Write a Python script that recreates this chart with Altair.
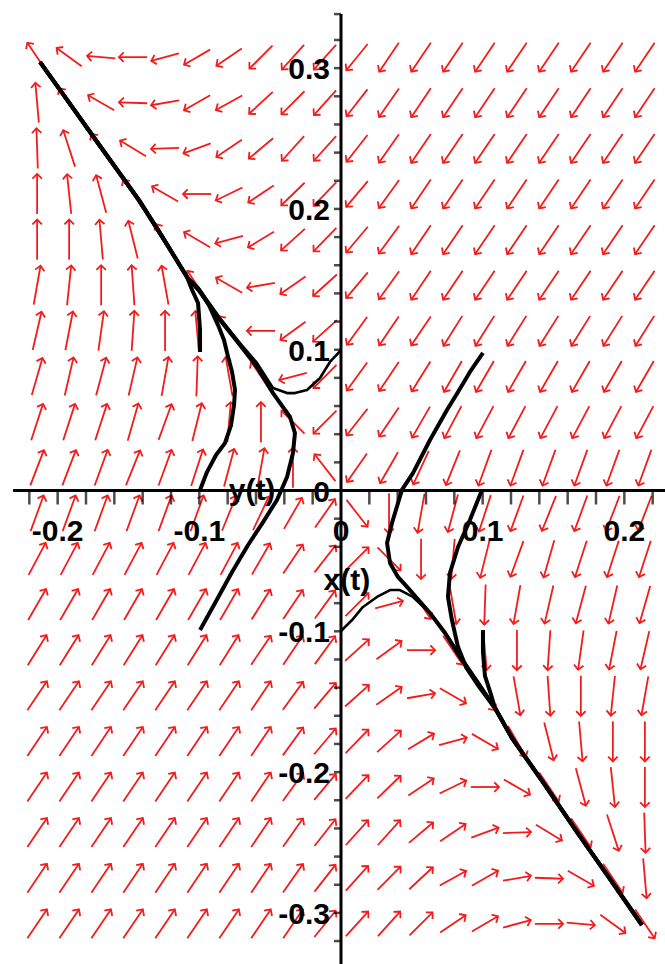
import math
import altair as alt
import pandas as pd

# ---------------------------------------------------------------------------
# Plot window and layout
# ---------------------------------------------------------------------------
W, H = 665, 964
X_DOMAIN = [-0.2407, 0.2287]
Y_DOMAIN = [-0.3363, 0.3484]
X_AXIS_SPAN = [-0.2315, 0.2287]
Y_AXIS_SPAN = [-0.3363, 0.3384]

# ---------------------------------------------------------------------------
# Direction field: arrow centres and arrow directions (degrees, counter-clockwise)
# ---------------------------------------------------------------------------
GRID_X = [-0.2145, -0.1919, -0.1693, -0.1468, -0.1242, -0.1016, -0.0790, -0.0565, -0.0339, -0.0113,
          0.0113, 0.0339, 0.0565, 0.0790, 0.1016, 0.1242, 0.1468, 0.1693, 0.1919, 0.2145]
GRID_Y = [0.3078, 0.2754, 0.2430, 0.2106, 0.1782, 0.1458, 0.1134, 0.0810, 0.0486, 0.0162,
          -0.0162, -0.0486, -0.0810, -0.1134, -0.1458, -0.1782, -0.2106, -0.2430, -0.2754, -0.3078]
CELL_W, CELL_H = 0.0226, 0.0324
ARROW_FRAC = 0.88

ANGLES = [
    [124, 144, 175, 180, 195, 210, 214, 225, 228, 228, 231, 236, 236, 236, 236, 236, 236, 236, 236, 236],
    [95, 124, 150, 178, 190, 210, 209, 223, 225, 228, 232, 235, 236, 236, 236, 236, 236, 236, 236, 236],
    [92, 108, 124, 149, 182, 200, 214, 220, 228, 228, 232, 235, 236, 236, 236, 236, 236, 236, 236, 236],
    [90, 96, 105, 124, 150, 180, 206, 214, 224, 226, 230, 234, 236, 236, 236, 236, 236, 236, 236, 236],
    [90, 90, 95, 104, 120, 150, 195, 211, 222, 226, 230, 234, 236, 236, 236, 236, 236, 236, 236, 236],
    [80, 84, 90, 94, 100, 124, 150, 190, 215, 222, 230, 234, 236, 236, 236, 236, 236, 236, 236, 236],
    [77, 79, 82, 86, 90, 95, 124, 180, 216, 222, 234, 236, 236, 238, 238, 238, 238, 238, 238, 238],
    [74, 77, 75, 77, 80, 88, 100, 124, 195, 225, 234, 236, 238, 240, 240, 240, 240, 240, 240, 240],
    [72, 72, 72, 74, 70, 76, 85, 90, 135, 225, 232, 236, 240, 242, 242, 242, 242, 242, 242, 242],
    [69, 69, 70, 68, 70, 72, 75, 80, 90, 128, 235, 240, 245, 248, 250, 250, 250, 250, 250, 250],
    [70, 70, 70, 70, 70, 70, 68, 65, 60, 55, 308, 270, 260, 255, 252, 250, 248, 250, 249, 249],
    [62, 62, 62, 62, 62, 62, 62, 60, 56, 52, 45, 315, 270, 265, 256, 250, 254, 252, 252, 252],
    [60, 60, 60, 60, 60, 60, 60, 58, 56, 54, 45, 15, 304, 280, 268, 260, 257, 255, 257, 254],
    [58, 58, 58, 58, 58, 58, 58, 56, 56, 54, 42, 36, 0, 304, 275, 270, 266, 262, 259, 257],
    [56, 56, 56, 56, 56, 56, 56, 56, 54, 50, 42, 35, 10, 330, 304, 280, 274, 270, 264, 260],
    [56, 56, 56, 56, 56, 56, 56, 56, 54, 50, 46, 42, 31, 15, 330, 300, 284, 275, 270, 270],
    [56, 56, 56, 56, 56, 56, 56, 56, 54, 50, 46, 44, 34, 26, 0, 330, 304, 285, 276, 270],
    [56, 56, 56, 56, 56, 56, 56, 56, 55, 52, 48, 48, 40, 34, 20, 2, 329, 304, 288, 272],
    [56, 56, 56, 56, 56, 56, 56, 56, 55, 52, 48, 45, 43, 29, 30, 10, 358, 330, 304, 275],
    [56, 56, 56, 56, 56, 56, 56, 56, 56, 51, 48, 48, 45, 34, 30, 15, 0, 355, 324, 304],
]

# ---------------------------------------------------------------------------
# Solution curves x(t), y(t)
# ---------------------------------------------------------------------------
LEFT_TAIL_X = [-0.1087, -0.1256, -0.1426, -0.1701, -0.1912, -0.2124]
LEFT_TAIL_Y = [0.1516, 0.1793, 0.2063, 0.2447, 0.2745, 0.3043]
RIGHT_TAIL_X = [0.1087, 0.1207, 0.1440, 0.1665, 0.1898, 0.2124]
RIGHT_TAIL_Y = [-0.1545, -0.1758, -0.2092, -0.2425, -0.2759, -0.3086]

A_X = [0.0, -0.0078, -0.0148, -0.0240, -0.0325, -0.0381, -0.0480, -0.0593, -0.0713, -0.0854, -0.0995]
A_Y = [0.0998, 0.0913, 0.0799, 0.0714, 0.0692, 0.0692, 0.0728, 0.0906, 0.1048, 0.1225, 0.1424]
B_X = [-0.0995, -0.0889, -0.0769, -0.0656, -0.0550, -0.0452, -0.0381, -0.0339, -0.0325, -0.0360,
       -0.0480, -0.0593, -0.0713, -0.0854, -0.0995]
B_Y = [-0.0991, -0.0799, -0.0579, -0.0387, -0.0224, -0.0067, 0.0096, 0.0266, 0.0408, 0.0522,
       0.0692, 0.0877, 0.1033, 0.1211, 0.1410]
C_X = [-0.0995, -0.0946, -0.0882, -0.0819, -0.0776, -0.0755, -0.0748, -0.0769, -0.0797, -0.0826,
       -0.0868, -0.0932, -0.1009]
C_Y = [0.0004, 0.0131, 0.0252, 0.0337, 0.0465, 0.0607, 0.0714, 0.0842, 0.0948, 0.1069,
       0.1175, 0.1317, 0.1438]
DM_X = [-0.0995, -0.0995, -0.1009, -0.1051]
DM_Y = [0.0984, 0.1140, 0.1332, 0.1424]

D_X = [0.1002, 0.0910, 0.0826, 0.0748, 0.0628, 0.0508, 0.0430, 0.0360, 0.0325, 0.0346, 0.0402,
       0.0466, 0.0628, 0.0734, 0.0840, 0.0967]
D_Y = [0.0977, 0.0842, 0.0700, 0.0572, 0.0359, 0.0124, 0.0004, -0.0231, -0.0373, -0.0515, -0.0614,
       -0.0685, -0.0870, -0.1012, -0.1183, -0.1367]
E_X = [0.0995, 0.0910, 0.0826, 0.0769, 0.0755, 0.0783, 0.0826, 0.0882, 0.0981]
E_Y = [0.0004, -0.0210, -0.0401, -0.0586, -0.0756, -0.0920, -0.1112, -0.1254, -0.1403]
G_X = [0.1002, 0.1002, 0.1016, 0.1051]
G_Y = [-0.0991, -0.1147, -0.1317, -0.1424]
F_X = [0.0, 0.0078, 0.0155, 0.0254, 0.0346, 0.0416, 0.0508, 0.0628, 0.0734, 0.0840, 0.0967]
F_Y = [-0.0998, -0.0920, -0.0827, -0.0756, -0.0707, -0.0707, -0.0756, -0.0870, -0.1005, -0.1168, -0.1360]

# curve name, points, which tail it joins, line weight
CURVES = [
    ("a", A_X, A_Y, "left", "thin"),
    ("b", B_X, B_Y, "left", "thick"),
    ("c", C_X, C_Y, "left", "thick"),
    ("dm", DM_X, DM_Y, "left", "thick"),
    ("d", D_X, D_Y, "right", "thick"),
    ("e", E_X, E_Y, "right", "thick"),
    ("g", G_X, G_Y, "right", "thick"),
    ("f", F_X, F_Y, "right", "thin"),
]

# ---------------------------------------------------------------------------
# Axes: ticks and labels
# ---------------------------------------------------------------------------
X_TICKS = [-0.22, -0.2, -0.18, -0.16, -0.14, -0.12, -0.1, -0.08, -0.06, -0.04, -0.02,
           0.02, 0.04, 0.06, 0.08, 0.1, 0.12, 0.14, 0.16, 0.18, 0.2, 0.22]
Y_TICKS = [-0.32, -0.3, -0.28, -0.26, -0.24, -0.22, -0.2, -0.18, -0.16, -0.14, -0.12, -0.1,
           -0.08, -0.06, -0.04, -0.02, 0.02, 0.04, 0.06, 0.08, 0.1, 0.12, 0.14, 0.16, 0.18,
           0.2, 0.22, 0.24, 0.26, 0.28, 0.3, 0.32, 0.3384]
X_LABEL_POS = [-0.2, -0.1, 0.0, 0.1, 0.2]
X_LABEL_TEXT = ["-0.2", "-0.1", "0", "0.1", "0.2"]
Y_LABEL_POS = [0.3, 0.2, 0.1, 0.0, -0.1, -0.2, -0.3]
Y_LABEL_TEXT = ["0.3", "0.2", "0.1", "0", "-0.1", "-0.2", "-0.3"]
TITLE_TEXT = ["y(t)", "x(t)"]
TITLE_X = [-0.0628, 0.0042]
TITLE_Y = [-0.0067, -0.0707]

FONT = "Liberation Sans"
RED = "#f21c1c"

# ---------------------------------------------------------------------------
# Build tables
# ---------------------------------------------------------------------------
px_per_x = W / (X_DOMAIN[1] - X_DOMAIN[0])
px_per_y = H / (Y_DOMAIN[1] - Y_DOMAIN[0])
cell_px_w = CELL_W * px_per_x
cell_px_h = CELL_H * px_per_y

arrow_rows = []
for j, yc in enumerate(GRID_Y):
    for i, xc in enumerate(GRID_X):
        deg = ANGLES[j][i]
        a = math.radians(deg)
        # direction measured in cell units, so every arrow fills its cell alike
        u = math.cos(a) / cell_px_w
        v = math.sin(a) / cell_px_h
        n = math.hypot(u, v)
        dx = ARROW_FRAC * u / n * CELL_W
        dy = ARROW_FRAC * v / n * CELL_H
        arrow_rows.append({
            "x": xc - dx / 2, "y": yc - dy / 2,
            "x2": xc + dx / 2, "y2": yc + dy / 2,
            "rot": (360 - deg) % 360,
        })
arrows = pd.DataFrame(arrow_rows)

curve_rows = []
for name, cxs, cys, side, weight in CURVES:
    tx, ty = (LEFT_TAIL_X, LEFT_TAIL_Y) if side == "left" else (RIGHT_TAIL_X, RIGHT_TAIL_Y)
    for k, (cx, cy) in enumerate(zip(list(cxs) + tx, list(cys) + ty)):
        curve_rows.append({"curve": name, "k": k, "x": cx, "y": cy, "w": weight})
curves = pd.DataFrame(curve_rows)

axis_lines = pd.DataFrame([
    {"x": X_AXIS_SPAN[0], "x2": X_AXIS_SPAN[1], "y": 0.0, "y2": 0.0},
    {"x": 0.0, "x2": 0.0, "y": Y_AXIS_SPAN[0], "y2": Y_AXIS_SPAN[1]},
])
xticks = pd.DataFrame({"x": X_TICKS, "y": [0.0] * len(X_TICKS)})
yticks = pd.DataFrame({"x": [0.0] * len(Y_TICKS), "y": Y_TICKS})
xlabels = pd.DataFrame({"x": X_LABEL_POS, "y": [0.0] * len(X_LABEL_POS), "t": X_LABEL_TEXT})
ylabels = pd.DataFrame({"x": [0.0] * len(Y_LABEL_POS), "y": Y_LABEL_POS, "t": Y_LABEL_TEXT})
titles = pd.DataFrame({"x": TITLE_X, "y": TITLE_Y, "t": TITLE_TEXT})

xs = alt.Scale(domain=X_DOMAIN, nice=False, zero=False)
ys = alt.Scale(domain=Y_DOMAIN, nice=False, zero=False)


def X(f="x"):
    return alt.X(f"{f}:Q", scale=xs, axis=None)


def Y(f="y"):
    return alt.Y(f"{f}:Q", scale=ys, axis=None)


shafts = alt.Chart(arrows).mark_rule(color=RED, strokeWidth=1.8, clip=True).encode(
    x=X(), y=Y(), x2="x2:Q", y2="y2:Q")

heads = alt.Chart(arrows).mark_point(
    shape="M -1 -1 L 0 0 L -1 1", filled=False, stroke=RED, strokeWidth=1.8,
    size=90, opacity=1, clip=True,
).encode(x=X("x2"), y=Y("y2"), angle=alt.Angle("rot:Q", scale=None))

thick = alt.Chart(curves[curves.w == "thick"]).mark_line(
    color="black", strokeWidth=4, clip=True, strokeJoin="round").encode(
    x=X(), y=Y(), detail="curve:N", order="k:Q")
thin = alt.Chart(curves[curves.w == "thin"]).mark_line(
    color="black", strokeWidth=2.6, clip=True, strokeJoin="round").encode(
    x=X(), y=Y(), detail="curve:N", order="k:Q")

axes = alt.Chart(axis_lines).mark_rule(color="black", strokeWidth=3).encode(
    x=X(), y=Y(), x2="x2:Q", y2="y2:Q")
xtick_marks = alt.Chart(xticks).mark_tick(
    color="black", orient="vertical", size=14, thickness=2.5, yOffset=7).encode(x=X(), y=Y())
ytick_marks = alt.Chart(yticks).mark_tick(
    color="black", orient="horizontal", size=7, thickness=2.5, xOffset=-3.5).encode(x=X(), y=Y())

xlab = alt.Chart(xlabels).mark_text(
    font=FONT, fontSize=30, fontWeight="bold", color="black", align="center",
    baseline="alphabetic", dy=50).encode(x=X(), y=Y(), text="t:N")
ylab = alt.Chart(ylabels).mark_text(
    font=FONT, fontSize=30, fontWeight="bold", color="black", align="right",
    baseline="alphabetic", dx=-11, dy=11).encode(x=X(), y=Y(), text="t:N")
tlab = alt.Chart(titles).mark_text(
    font=FONT, fontSize=30, fontWeight="bold", color="black", align="center",
    baseline="alphabetic").encode(x=X(), y=Y(), text="t:N")

chart = alt.layer(
    shafts, heads, thick, thin, axes, xtick_marks, ytick_marks, xlab, ylab, tlab
).properties(
    width=W, height=H, padding=0,
    autosize=alt.AutoSizeParams(type="none"),
    background="white",
).configure_view(stroke=None)

chart.save("out.html", embed_options={"renderer": "svg", "actions": False})
